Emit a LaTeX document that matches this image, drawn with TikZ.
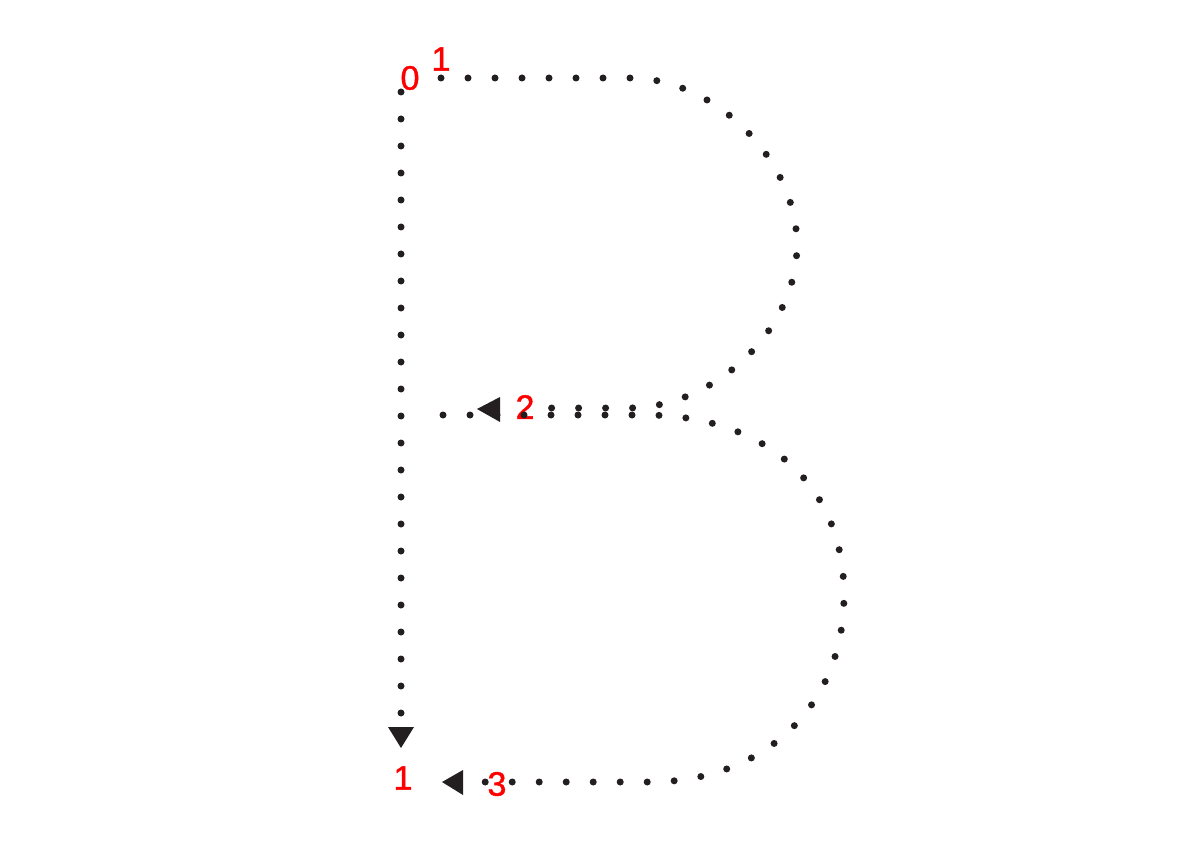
\documentclass[tikz,border=0pt]{standalone}
\usepackage{fontspec}
\newfontfamily\labelfont[FakeBold=1.2]{Liberation Sans}
\definecolor{ink}{HTML}{231F20}
\definecolor{numred}{HTML}{FF0000}
\tikzset{
  dotline/.style={draw=ink, line width=7pt, line cap=round, dash pattern=on 0pt off 27pt},
  arrowhead/.style={fill=ink, draw=none},
  num/.style={text=numred, inner sep=0pt, font=\labelfont\fontsize{34}{34}\selectfont}
}
\begin{document}
\begin{tikzpicture}[x=1pt,y=-1pt]
\useasboundingbox (0,0) rectangle (1191,842);
% numbers
\node[num] (n0) at (410,78) {0};
\node[num] (n1) at (441,59) {1};
\node[num] (n2) at (525,407) {2};
\node[num] (n1b) at (403,778) {1};
\node[num] (n3) at (497,784) {3};
% stem
\coordinate (stemtop) at (401,92);
\coordinate (stembot) at (401,718);
\draw[dotline] (stemtop) -- (stembot);
\fill[arrowhead] (401,748) -- (388,727) -- (414,727) -- cycle;
% upper bowl
\coordinate (ubstart) at (441,78);
\coordinate (ubtop) at (630,78);
\coordinate (ubright) at (797,245);
\coordinate (ubbot) at (630,408);
\coordinate (ubend) at (545,408);
\draw[dotline] (ubstart) -- (ubtop) .. controls (715,78) and (797,160) .. (ubright)
  .. controls (797,330) and (715,407) .. (ubbot) -- (ubend);
\fill[arrowhead] (477,409) -- (500,397) -- (500,422) -- cycle;
% lower bowl
\coordinate (lbstart) at (443,415);
\coordinate (lbtop) at (645,415);
\coordinate (lbright) at (844,595);
\coordinate (lbbot) at (650,782);
\coordinate (lbend) at (478,782);
\draw[dotline] (lbstart) -- (lbtop) .. controls (760,415) and (844,480) .. (lbright)
  .. controls (844,710) and (760,782) .. (lbbot) -- (lbend);
\fill[arrowhead] (442,782) -- (463,770) -- (463,795) -- cycle;
\end{tikzpicture}
\end{document}
